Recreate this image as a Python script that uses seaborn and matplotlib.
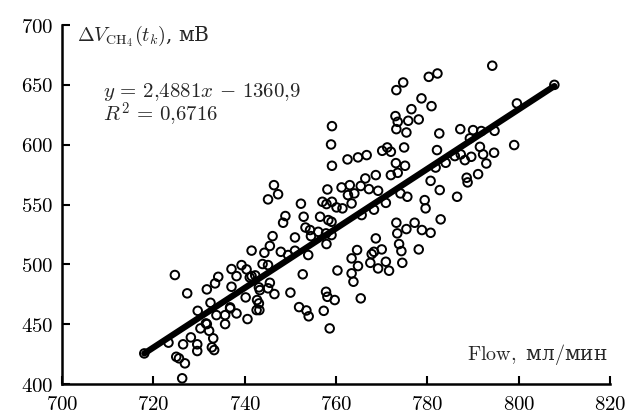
import matplotlib
matplotlib.use("Agg")
import matplotlib.pyplot as plt
from matplotlib.ticker import FuncFormatter
import numpy as np
import pandas as pd
import seaborn as sns

# measured points: flow (мл/мин) and ΔV (мВ)
flow = [
    718.0, 724.7, 727.4, 723.3, 725.0, 725.6, 726.9, 726.3, 726.5, 728.2,
    729.6, 729.6, 729.7, 730.3, 731.5, 731.7, 731.7, 732.2, 732.5, 733.1,
    732.8, 733.3, 733.5, 734.2, 733.8, 735.7, 735.7, 736.8, 737.1, 737.1,
    738.2, 738.2, 739.3, 740.4, 740.2, 740.6, 741.1, 741.5, 742.3, 741.5,
    742.7, 742.6, 743.1, 743.2, 743.3, 743.1, 743.9, 744.3, 745.1, 745.1,
    745.5, 746.5, 736.8,
    745.1, 746.4, 747.3, 748.4, 748.9, 746.1, 745.5, 747.9, 749.5, 751.0,
    751.0, 752.3, 752.9, 753.3, 754.3, 754.5, 756.1, 757.9, 759.0, 757.8,
    753.9, 752.7, 750.0, 751.9, 754.0, 753.5, 756.5, 758.3, 759.0, 757.0,
    757.9, 759.1, 760.1, 761.4, 763.4, 757.3, 757.8, 758.1, 759.7, 758.6,
    760.3, 758.1, 759.1, 758.9, 759.1, 762.5, 761.2,
    763.0, 764.0, 762.6, 765.4, 766.4, 767.2, 768.7, 769.2, 770.9, 768.3,
    765.6, 764.8, 766.7, 770.1, 771.2, 772.0, 774.9, 773.1, 775.1, 773.5,
    772.0, 773.2, 774.7, 780.3, 782.2, 778.7, 780.9, 776.5, 773.0, 773.5,
    775.8, 778.1, 773.2, 775.4, 763.4, 764.6, 764.8, 763.4, 763.8, 765.4,
    767.8, 768.3, 770.0, 767.5, 769.2, 770.9, 771.6, 768.7, 774.5, 774.3,
    773.8, 773.2, 773.4, 775.4, 777.2, 778.8, 780.7, 778.1, 782.9, 779.4,
    779.6, 774.1, 775.6, 780.7, 782.7,
    782.1, 782.6, 787.2, 790.0, 791.8, 794.7, 784.0, 786.0, 787.3, 788.2,
    789.6, 791.5, 792.2, 794.6, 792.9, 788.6, 788.8, 791.1, 786.5, 781.8,
    789.3, 794.2, 799.6, 799.0, 807.8,
]
delta_v = [
    425.6, 491.1, 475.8, 434.6, 422.8, 421.5, 417.3, 404.8, 433.2, 439.0,
    433.2, 427.6, 461.2, 446.5, 450.7, 479.1, 450.1, 444.5, 467.9, 438.2,
    430.7, 428.4, 484.1, 489.6, 457.6, 457.6, 450.1, 464.1, 496.1, 481.3,
    490.2, 459.0, 499.4, 495.8, 472.4, 454.3, 489.1, 490.2, 490.8, 511.5,
    470.2, 461.8, 467.4, 461.8, 478.5, 480.8, 500.3, 509.7, 499.4, 480.0,
    484.6, 475.2, 463.2,
    554.3, 566.2, 558.6, 534.8, 540.4, 523.6, 515.4, 510.5, 507.8, 511.4,
    522.5, 550.7, 539.8, 530.8, 528.7, 523.6, 527.2, 517.0, 524.5, 525.9,
    507.8, 491.7, 476.4, 464.3, 456.6, 461.5, 539.8, 537.0, 535.6, 552.3,
    550.4, 552.3, 547.6, 546.8, 550.9, 461.2, 477.1, 472.9, 470.2, 446.5,
    494.9, 562.6, 615.5, 600.2, 582.4, 587.7, 564.3,
    566.2, 559.3, 557.9, 565.5, 571.8, 562.9, 574.6, 561.5, 551.4, 545.7,
    541.2, 589.4, 591.3, 594.9, 597.7, 594.1, 597.7, 584.6, 582.4, 576.5,
    574.6, 645.6, 652.0, 656.7, 659.5, 638.7, 632.2, 629.7, 623.9, 619.1,
    620.0, 621.1, 613.0, 610.2, 505.0, 512.0, 498.6, 492.5, 485.5, 471.6,
    508.6, 510.5, 512.5, 501.3, 496.6, 502.2, 494.7, 521.7, 501.3, 511.1,
    517.0, 534.8, 525.9, 529.5, 534.8, 528.7, 526.4, 512.5, 537.6, 553.7,
    546.8, 559.3, 556.5, 569.8, 562.1,
    595.5, 609.4, 613.0, 612.2, 611.4, 611.6, 584.9, 590.5, 591.9, 587.1,
    589.9, 598.2, 591.9, 593.3, 584.3, 572.4, 568.5, 575.4, 556.5, 580.9,
    605.3, 666.0, 634.5, 599.7, 650.0,
]

slope = 2.4881
intercept = -1360.9

df = pd.DataFrame({"flow": flow, "delta_v": delta_v})
fit_x = np.array([df["flow"].min(), df["flow"].max()])
fit = pd.DataFrame({"flow": fit_x, "delta_v": slope * fit_x + intercept})

sns.set_theme(style="ticks")
plt.rcParams["font.family"] = ["DejaVu Serif"]
plt.rcParams["mathtext.fontset"] = "cm"

fig = plt.figure(figsize=(6.27, 4.17), dpi=100)
ax = fig.add_axes([0.099, 0.079, 0.874, 0.861])

sns.scatterplot(data=df, x="flow", y="delta_v", marker="o", s=38,
                facecolor="none", edgecolor="black", linewidth=1.4, ax=ax)
sns.lineplot(data=fit, x="flow", y="delta_v", color="black", linewidth=4.5,
             solid_capstyle="round", ax=ax)

ax.set_xlim(700, 820)
ax.set_ylim(400, 700)
ax.set_xticks(np.arange(700, 821, 20))
ax.set_yticks(np.arange(400, 701, 50))
fmt = FuncFormatter(lambda v, pos: f"${v:.0f}$")
ax.xaxis.set_major_formatter(fmt)
ax.yaxis.set_major_formatter(fmt)
ax.tick_params(direction="in", length=6, width=1.5, labelsize=15, colors="black")
ax.tick_params(axis="x", pad=8)
ax.tick_params(axis="y", pad=6)
sns.despine(ax=ax)
for side in ["left", "bottom"]:
    ax.spines[side].set_linewidth(1.8)
    ax.spines[side].set_color("black")
ax.set_xlabel("")
ax.set_ylabel("")

ax.text(703.3, 691, r"$\Delta V_{\mathrm{CH}_4}(t_k)$, мВ", fontsize=14.5,
        ha="left", va="center")
ax.text(709, 644, r"$y\, =\, 2{,}4881x\, -\, 1360{,}9$", fontsize=15,
        ha="left", va="center")
ax.text(709, 625, r"$R^2\, =\, 0{,}6716$", fontsize=15, ha="left", va="center")
ax.text(819.5, 425, r"$\mathrm{Flow},$ мл$/$мин", fontsize=14.5,
        ha="right", va="center")

fig.savefig("out.png", dpi=100)
